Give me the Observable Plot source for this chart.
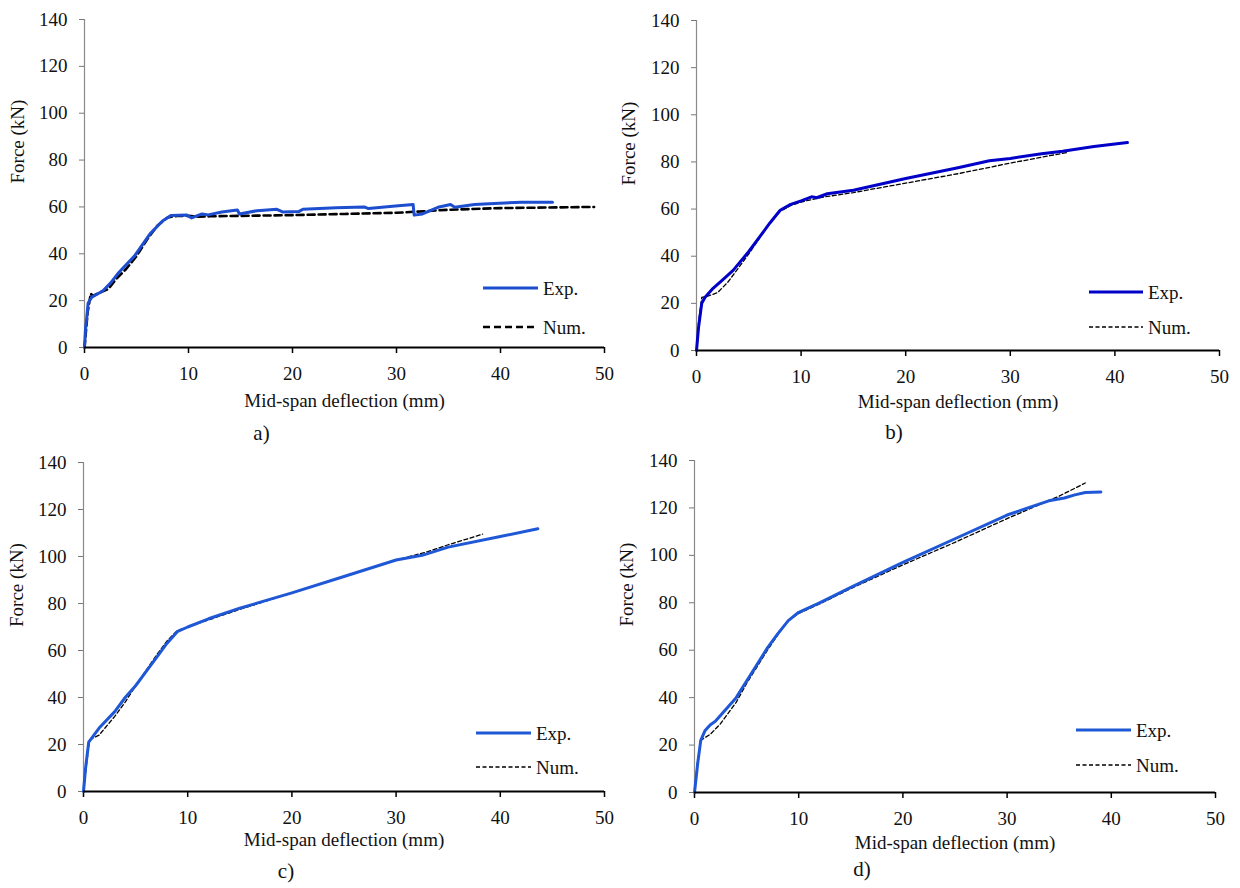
<!DOCTYPE html>
<html><head><meta charset="utf-8">
<script src="https://cdn.jsdelivr.net/npm/d3@7"></script>
<script src="https://cdn.jsdelivr.net/npm/@observablehq/plot@0.6"></script>
<style>
body{margin:0;background:#fff;}
#wrap{position:relative;width:1240px;height:888px;background:#fff;overflow:hidden;font-family:"Liberation Serif","Times New Roman",serif;}
.panel{position:absolute;}
#wrap svg, #wrap svg text{font-family:"Liberation Serif","Times New Roman",serif !important;}
</style>
</head><body><div id="wrap"></div>
<script>
// ---- data (mid-span deflection mm, force kN) ----
const xTicks = [0, 10, 20, 30, 40, 50];
const yTicks = [0, 20, 40, 60, 80, 100, 120, 140];
const seriesNames = ["Exp.", "Num."];
const panelLabels = ["a)", "b)", "c)", "d)"];
const xTitle = "Mid-span deflection (mm)";
const yTitle = "Force (kN)";

const aExpDef   = [0,0.1,0.2,0.35,0.7,1.5,1.8,2.5,3.3,4.8,6.3,7.5,8.3,9.8,10.3,11.3,11.9,13.2,14.7,14.9,16.6,18.5,19.1,20.6,21,24.2,26.9,27.3,29.9,31.6,31.7,32.5,34.1,35.2,35.6,37.5,39.4,42,45];
const aExpForce = [0,8,12,19,21.5,23.5,24.3,27.5,32,39,48.5,54,56.3,56.6,55.3,57,56.6,57.8,58.7,57,58.4,59,57.8,58,59,59.6,60,59.3,60.4,61,56.5,57,60,61,59.9,61,61.5,62,62];
const aNumDef   = [0,0.3,0.6,0.8,1.5,2.3,3,4,5,6,7,8,9,10,11,12,20,25,30,32,35,40,49];
const aNumForce = [0,15,23,22,23.5,25,29,33.5,39,46,52,55.5,56.2,56.2,55.8,56,56.5,57,57.5,58,58.8,59.5,60];

const bExpDef   = [0,0.2,0.5,0.8,1.5,2.5,3.5,5,6,7,8,9,10,11,11.5,12.5,15,20,25,28,30,33,35,38,41.2];
const bExpForce = [0,10,20,22.5,26,30,34,42,48,54,59.5,62,63.5,65.2,64.8,66.5,68,73,77.5,80.5,81.5,83.5,84.5,86.5,88.2];
const bNumDef   = [0,0.2,0.5,1,2,3,4,5,6,7,8,9,10,12,15,20,25,30,35.4];
const bNumForce = [0,12,22.5,23,24.5,29,35,41,47.5,54,59,61.5,63,65,67,71,75,79.5,84];

const cExpDef   = [0,0.2,0.5,1.5,3,4,5,6,7,8,9,10,12,15,20,25,30,32.5,35,40,43.6];
const cExpForce = [0,10,21,27,34,40,45,51,57,63,68,70,73.5,78,84.5,91.5,98.5,100.5,104,108.5,111.8];
const cNumDef   = [0,0.3,0.6,1.5,3,4,5,6,7,8,9,10,12,15,20,25,30,33,35,38.3];
const cNumForce = [0,12,22,24,32,38,45,51.5,58,64,68.5,70,73,77.5,84.5,91.5,98.5,102,105,109.5];

const dExpDef   = [0,0.3,0.6,1,1.5,2,3,4,5,6,7,8,9,10,12,15,20,25,30,32,34,35.5,36.5,37.5,39];
const dExpForce = [0,12,22,26,28.5,30,35,40,47,54,61,67,72.5,76,80,86.5,97,107,117,120,123,124.2,125.5,126.5,126.7];
const dNumDef   = [0,0.3,0.6,1.5,2.5,4,5,6,7,8,9,10,12,15,20,25,30,35,37.5];
const dNumForce = [0,14,22,24.5,29,38,46,53,60,66.5,72.5,75.5,79.5,86,96,105.5,115.5,125,130.5];

const toRows = (xs, ys) => xs.map((x, i) => ({x, y: ys[i]}));
const FONT = '"Liberation Serif","Times New Roman",serif';

const panels = [
  {label: panelLabels[0], exp: toRows(aExpDef, aExpForce), num: toRows(aNumDef, aNumForce),
   left: 0, top: 0, width: 615, height: 450, mL: 84, mR: 11, mT: 19, mB: 103,
   titleDy: 59, labDy: 92, labDx: -83, yDx: -67,
   expColor: "#1d4ed0", numWidth: 2.6, numDash: "7,4",
   leg: {x1: 483, x2: 538, y1: 288, y2: 327}},
  {label: panelLabels[1], exp: toRows(bExpDef, bExpForce), num: toRows(bNumDef, bNumForce),
   left: 615, top: 0, width: 625, height: 450, mL: 81, mR: 21, mT: 20, mB: 100,
   titleDy: 57, labDy: 88, labDx: -64, yDx: -68,
   expColor: "#0000c8", numWidth: 1.3, numDash: "4,2.5",
   leg: {x1: 1089, x2: 1143, y1: 292, y2: 327}},
  {label: panelLabels[2], exp: toRows(cExpDef, cExpForce), num: toRows(cNumDef, cNumForce),
   left: 0, top: 450, width: 615, height: 438, mL: 83, mR: 11, mT: 12, mB: 97,
   titleDy: 54, labDy: 86, labDx: -58, yDx: -67,
   expColor: "#1f58d6", numWidth: 1.3, numDash: "4,2.5",
   leg: {x1: 476, x2: 531, y1: 733, y2: 767}},
  {label: panelLabels[3], exp: toRows(dExpDef, dExpForce), num: toRows(dNumDef, dNumForce),
   left: 615, top: 450, width: 625, height: 438, mL: 79, mR: 25, mT: 10, mB: 96,
   titleDy: 56, labDy: 83, labDx: -93, yDx: -68,
   expColor: "#1f58d6", numWidth: 1.3, numDash: "4,2.5",
   leg: {x1: 1076, x2: 1131, y1: 730, y2: 765}}
];

const wrap = document.getElementById("wrap");

for (const p of panels) {
  const chart = Plot.plot({
    width: p.width, height: p.height,
    marginLeft: p.mL, marginRight: p.mR, marginTop: p.mT, marginBottom: p.mB,
    x: {domain: [0, 50]},
    y: {domain: [0, 140]},
    style: {fontFamily: FONT, fontSize: "19px", color: "#111", background: "transparent", overflow: "visible"},
    marks: [
      Plot.ruleX([0], {stroke: "#8a8a8a", strokeWidth: 1.2}),
      Plot.axisY({ticks: yTicks, tickSize: 5, tickPadding: 12, stroke: "#777", label: null, fontSize: 19, fontFamily: FONT, tickFormat: d => String(d)}),
      Plot.axisX({ticks: xTicks, tickSize: 6, tickPadding: 13, stroke: "#000", strokeWidth: 1.5, label: null, fontSize: 19, fontFamily: FONT, tickFormat: d => String(d)}),
      Plot.line(p.num, {x: "x", y: "y", stroke: "#000", strokeWidth: p.numWidth, strokeDasharray: p.numDash}),
      Plot.line(p.exp, {x: "x", y: "y", stroke: p.expColor, strokeWidth: 3, strokeLinejoin: "round", strokeLinecap: "round"}),
      Plot.ruleY([0], {stroke: "#000", strokeWidth: 2}),
      Plot.text([xTitle], {frameAnchor: "bottom", dy: p.titleDy, fontSize: 19, fontFamily: FONT}),
      Plot.text([p.label], {frameAnchor: "bottom", dy: p.labDy, dx: p.labDx, fontSize: 21, fontFamily: FONT}),
      Plot.text([yTitle], {frameAnchor: "left", dx: p.yDx, rotate: -90, fontSize: 19, fontFamily: FONT})
    ]
  });
  const div = document.createElement("div");
  div.className = "panel";
  div.style.left = p.left + "px";
  div.style.top = p.top + "px";
  div.appendChild(chart);
  wrap.appendChild(div);

  // legend
  const L = p.leg;
  const lg = d3.select(wrap).append("svg")
    .attr("width", 1240).attr("height", 888)
    .style("position", "absolute").style("left", 0).style("top", 0)
    .style("pointer-events", "none")
    .style("font-family", FONT);
  lg.append("line").attr("x1", L.x1).attr("x2", L.x2).attr("y1", L.y1).attr("y2", L.y1)
    .attr("stroke", p.expColor).attr("stroke-width", 3);
  lg.append("line").attr("x1", L.x1).attr("x2", L.x2).attr("y1", L.y2).attr("y2", L.y2)
    .attr("stroke", "#000").attr("stroke-width", p.numWidth).attr("stroke-dasharray", p.numDash);
  lg.append("text").attr("x", L.x2 + 5).attr("y", L.y1).attr("dy", "0.35em")
    .attr("font-size", 19).attr("fill", "#111").text(seriesNames[0]);
  lg.append("text").attr("x", L.x2 + 5).attr("y", L.y2).attr("dy", "0.35em")
    .attr("font-size", 19).attr("fill", "#111").text(seriesNames[1]);
}
</script>
</body></html>
